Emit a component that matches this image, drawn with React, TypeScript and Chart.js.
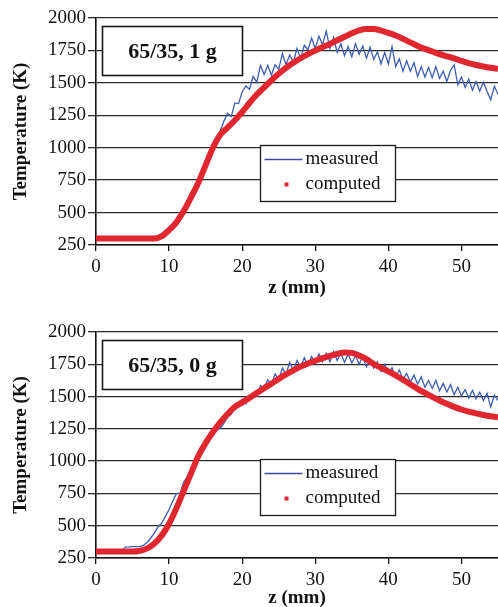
import React, { useEffect, useRef } from 'react';
import { Chart, registerables } from 'chart.js';

Chart.register(...registerables);

// ---------- data ----------
const zMeasured = [
  0, 0.5, 1, 1.5, 2, 2.5, 3, 3.5, 4, 4.5, 5, 5.5, 6, 6.5, 7, 7.5, 8, 8.5, 9, 9.5,
  10, 10.5, 11, 11.5, 12, 12.5, 13, 13.5, 14, 14.5, 15, 15.5, 16, 16.5, 17, 17.5, 18, 18.5, 19, 19.5,
  20, 20.5, 21, 21.5, 22, 22.5, 23, 23.5, 24, 24.5, 25, 25.5, 26, 26.5, 27, 27.5, 28, 28.5, 29, 29.5,
  30, 30.5, 31, 31.5, 32, 32.5, 33, 33.5, 34, 34.5, 35, 35.5, 36, 36.5, 37, 37.5, 38, 38.5, 39, 39.5,
  40, 40.5, 41, 41.5, 42, 42.5, 43, 43.5, 44, 44.5, 45, 45.5, 46, 46.5, 47, 47.5, 48, 48.5, 49, 49.5,
  50, 50.5, 51, 51.5, 52, 52.5, 53, 53.5, 54, 54.5, 55,
];

const zComputed = [
  0, 1, 2, 3, 4, 5, 6, 7, 8, 9, 10, 11, 12, 13, 14, 15, 16, 17, 18, 19,
  20, 21, 22, 23, 24, 25, 26, 27, 28, 29, 30, 31, 32, 33, 34, 35, 36, 37, 38, 39,
  40, 41, 42, 43, 44, 45, 46, 47, 48, 49, 50, 51, 52, 53, 54, 55,
];

// 65/35, 1 g
const measured1g = [
  300, 300, 300, 300, 300, 300, 300, 300, 300, 300, 300, 300, 300, 300, 300, 300, 300,
  302, 318, 342, 368, 396, 425, 468, 515, 565, 620, 675, 730, 798, 865, 932, 1000, 1060,
  1130, 1205, 1265, 1240, 1345, 1340, 1430, 1475,
  1450, 1550, 1505, 1635, 1565, 1635, 1560, 1640, 1605, 1725, 1640, 1715, 1660, 1765, 1685, 1790,
  1755, 1845, 1765, 1860, 1795, 1900, 1765, 1850, 1735, 1800, 1710, 1780, 1700, 1802, 1720, 1783,
  1690, 1775, 1680, 1740, 1645, 1735, 1645, 1780, 1625, 1685, 1590, 1670, 1590, 1655, 1550, 1625,
  1545, 1620, 1540, 1625, 1535, 1590, 1510, 1595, 1640, 1485, 1545, 1465, 1530, 1443, 1510, 1435,
  1505, 1435, 1370, 1475, 1410,
];
const computed1g = [
  300, 300, 300, 300, 300, 300, 300, 300, 300, 318, 365, 425, 512, 618, 730, 865, 1000, 1100, 1155, 1212,
  1275, 1345, 1410, 1465, 1520, 1570, 1615, 1655, 1690, 1722, 1750, 1775, 1800, 1828, 1855, 1882, 1905, 1915, 1915, 1903,
  1885, 1865, 1840, 1812, 1785, 1762, 1742, 1722, 1705, 1688, 1670, 1652, 1638, 1626, 1616, 1608,
];

// 65/35, 0 g
const measured0g = [
  300, 300, 300, 300, 300, 300, 300, 300,
  335, 336, 338, 338, 340, 348, 372, 405, 445, 492, 520, 572, 625, 690, 748, 752, 838, 880, 940, 985,
  1060, 1110, 1165, 1210, 1232, 1240, 1255, 1292, 1340, 1362, 1410, 1432,
  1465, 1445, 1505, 1490, 1505, 1585, 1565, 1630, 1595, 1675, 1630, 1720, 1675, 1763, 1705, 1780,
  1730, 1802, 1740, 1810, 1755, 1830, 1770, 1835, 1770, 1847, 1780, 1833, 1765, 1830, 1760, 1818,
  1750, 1808, 1730, 1782, 1720, 1770, 1695, 1750, 1680, 1723, 1652, 1706, 1635, 1680, 1610, 1666,
  1597, 1652, 1573, 1625, 1563, 1626, 1545, 1602, 1535, 1592, 1515, 1572, 1505, 1554, 1488, 1548,
  1483, 1534, 1470, 1525, 1420, 1510, 1470,
];
const computed0g = [
  300, 300, 300, 300, 300, 300, 306, 325, 362, 425, 515, 635, 770, 905, 1040, 1140, 1225, 1300, 1365, 1420,
  1455, 1490, 1528, 1565, 1600, 1637, 1672, 1703, 1732, 1756, 1777, 1797, 1815, 1830, 1842, 1838, 1818, 1790, 1752, 1722,
  1695, 1663, 1630, 1595, 1560, 1528, 1498, 1470, 1444, 1420, 1400, 1384, 1370, 1357, 1347, 1340,
];

const seriesNames = ['measured', 'computed'];
const panelLabels = ['65/35, 1 g', '65/35, 0 g'];
const xAxisTitle = 'z (mm)';
const yAxisTitle = 'Temperature (K)';

const FONT = '"Liberation Serif", "Times New Roman", Times, serif';
const BLUE = '#3a5cb2';
const RED = '#e0262f';

const toPoints = (xs: number[], ys: number[]) =>
  xs.slice(0, Math.min(xs.length, ys.length)).map((x, i) => ({ x, y: ys[i] }));

const overlayPlugin = {
  id: 'overlay',
  afterDraw(chart: any, _args: any, opts: any) {
    const { ctx, chartArea } = chart;
    ctx.save();
    // panel label box
    const bx = chartArea.left + 6.5;
    const by = chartArea.top + 8.5;
    const bw = 140;
    const bh = 49;
    ctx.fillStyle = '#ffffff';
    ctx.fillRect(bx, by, bw, bh);
    ctx.lineWidth = 1.6;
    ctx.strokeStyle = '#1a1a1a';
    ctx.strokeRect(bx, by, bw, bh);
    ctx.fillStyle = '#111';
    ctx.font = `bold 22px ${FONT}`;
    ctx.textAlign = 'center';
    ctx.textBaseline = 'middle';
    ctx.fillText(opts.label, bx + bw / 2, by + bh / 2 + 1);

    // legend box
    const lx = chartArea.left + 164.5;
    const ly = chartArea.top + 127.5;
    const lw = 135;
    const lh = 56;
    ctx.fillStyle = '#ffffff';
    ctx.fillRect(lx, ly, lw, lh);
    ctx.lineWidth = 1.3;
    ctx.strokeStyle = '#1a1a1a';
    ctx.strokeRect(lx, ly, lw, lh);
    const row1 = ly + 14;
    const row2 = ly + 39;
    ctx.strokeStyle = '#3a4aa8';
    ctx.lineWidth = 1.3;
    ctx.beginPath();
    ctx.moveTo(lx + 4, row1);
    ctx.lineTo(lx + 42, row1);
    ctx.stroke();
    ctx.fillStyle = RED;
    ctx.fillRect(lx + 24, row2 - 2, 4, 4);
    ctx.fillStyle = '#111';
    ctx.font = `19px ${FONT}`;
    ctx.textAlign = 'left';
    ctx.textBaseline = 'middle';
    ctx.fillText(seriesNames[0], lx + 45, row1);
    ctx.fillText(seriesNames[1], lx + 45, row2);
    ctx.restore();
  },
};

type PanelProps = {
  top: number;
  height: number;
  padTop: number;
  xAxisHeight: number;
  titlePadBottom: number;
  label: string;
  measured: number[];
  computed: number[];
};

function Panel({ top, height, padTop, xAxisHeight, titlePadBottom, label, measured, computed }: PanelProps) {
  const ref = useRef<HTMLCanvasElement | null>(null);
  useEffect(() => {
    if (!ref.current) return;
    const chart = new Chart(ref.current, {
      type: 'line',
      data: {
        datasets: [
          {
            label: seriesNames[0],
            data: toPoints(zMeasured, measured),
            borderColor: BLUE,
            borderWidth: 1.3,
            pointRadius: 0,
            tension: 0,
            order: 2,
          },
          {
            label: seriesNames[1],
            data: toPoints(zComputed, computed),
            borderColor: RED,
            borderWidth: 6,
            pointRadius: 0,
            cubicInterpolationMode: 'monotone',
            order: 1,
          },
        ],
      },
      plugins: [overlayPlugin],
      options: {
        animation: false,
        responsive: false,
        maintainAspectRatio: false,
        layout: { padding: { top: padTop, left: 0, right: 0, bottom: 0 } },
        plugins: {
          legend: { display: false },
          tooltip: { enabled: false },
          // @ts-ignore
          overlay: { label },
        },
        scales: {
          x: {
            type: 'linear',
            min: 0,
            max: 55,
            ticks: {
              stepSize: 10,
              includeBounds: false,
              autoSkip: false,
              maxRotation: 0,
              padding: 5,
              color: '#111',
              font: { family: FONT, size: 19 },
              callback: (v: any) => String(v),
            },
            grid: { drawOnChartArea: false, drawTicks: true, tickLength: 6, color: '#111', lineWidth: 1.3 },
            border: { display: true, color: '#111', width: 1.6 },
            title: {
              display: true,
              text: xAxisTitle,
              color: '#111',
              font: { family: FONT, size: 19, weight: 'bold' },
              padding: { top: 0, bottom: titlePadBottom },
            },
            afterFit: (s: any) => {
              s.height = xAxisHeight;
            },
          },
          y: {
            type: 'linear',
            min: 250,
            max: 2000,
            ticks: {
              stepSize: 250,
              padding: 2,
              color: '#111',
              font: { family: FONT, size: 19 },
              callback: (v: any) => String(v),
            },
            grid: { color: '#2a2a2a', lineWidth: 1.3, tickLength: 8 },
            border: { display: true, color: '#111', width: 1.6 },
            title: {
              display: true,
              text: yAxisTitle,
              color: '#111',
              font: { family: FONT, size: 19, weight: 'bold' },
              padding: { top: 10, bottom: 0 },
            },
            afterFit: (s: any) => {
              s.width = 96;
            },
          },
        },
      } as any,
    });
    return () => chart.destroy();
  }, [label, measured, computed, padTop, xAxisHeight, titlePadBottom]);

  return (
    <canvas
      ref={ref}
      width={498}
      height={height}
      style={{ position: 'absolute', left: 0, top, width: 498, height, display: 'block' }}
    />
  );
}

export default function App() {
  return (
    <div
      style={{
        position: 'absolute',
        left: 0,
        top: 0,
        width: 498,
        height: 607,
        overflow: 'hidden',
        background: '#ffffff',
      }}
    >
      <Panel
        top={0}
        height={305}
        padTop={18}
        xAxisHeight={60}
        titlePadBottom={5.5}
        label={panelLabels[0]}
        measured={measured1g}
        computed={computed1g}
      />
      <Panel
        top={305}
        height={306}
        padTop={27}
        xAxisHeight={53}
        titlePadBottom={1.5}
        label={panelLabels[1]}
        measured={measured0g}
        computed={computed0g}
      />
    </div>
  );
}
